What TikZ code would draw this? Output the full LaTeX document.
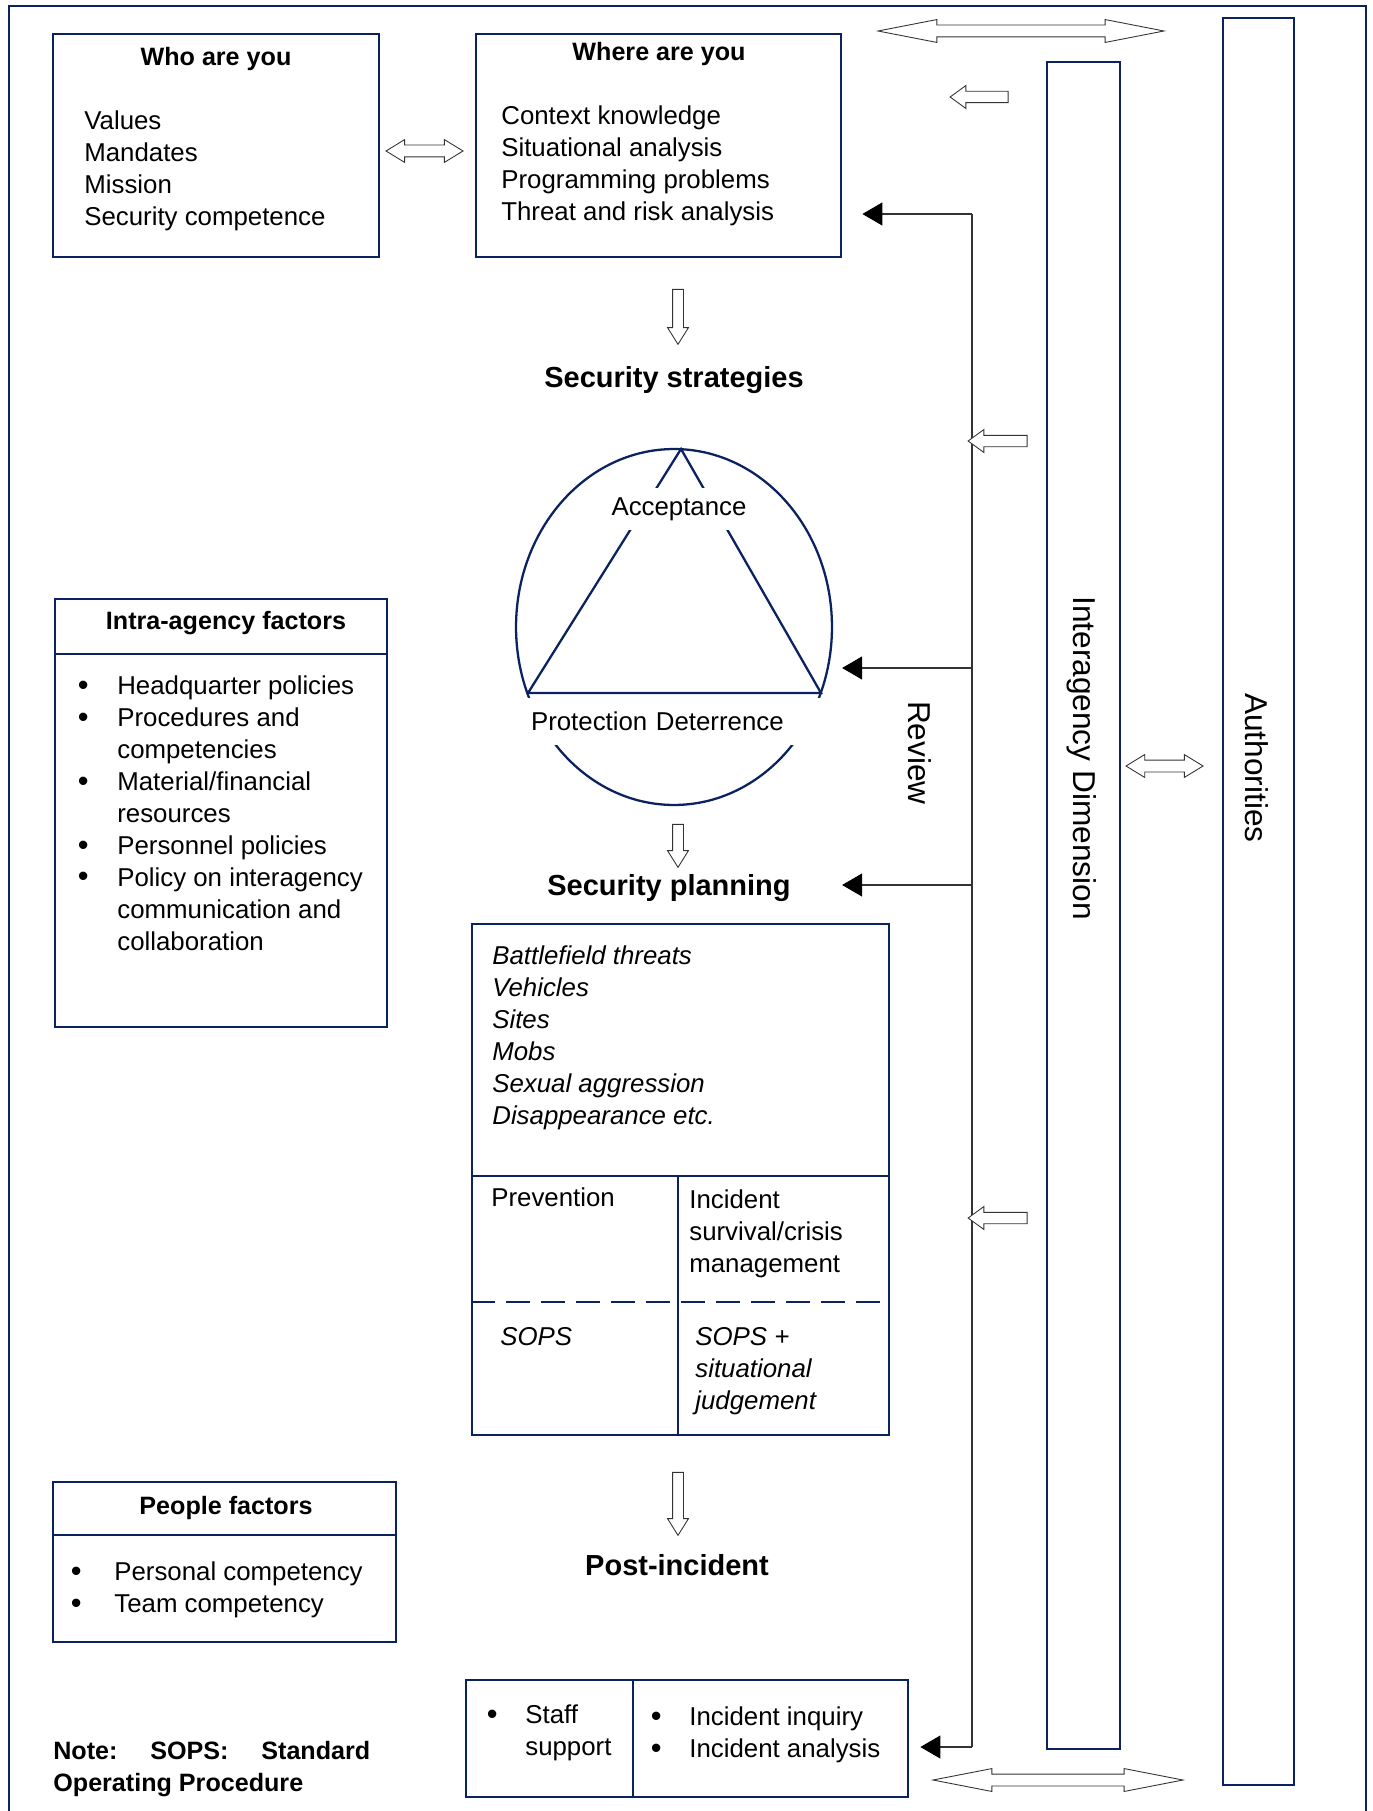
\documentclass[tikz,border=0pt]{standalone}
\usepackage{fontspec}
\setmainfont{Liberation Sans}
\usetikzlibrary{positioning,arrows.meta,shapes.geometric,shapes.arrows}
\definecolor{boxnavy}{HTML}{0B2260}
\newcommand{\fsbody}{\fontsize{14.7}{18.2}\selectfont}
\newcommand{\fstitle}{\fontsize{14.3}{18.2}\selectfont}
\newcommand{\fshead}{\fontsize{16.5}{20}\selectfont}
\newcommand{\fsvert}{\fontsize{18}{22}\selectfont}
\newcommand{\bul}{\raisebox{-0.03em}{\fontsize{17.5}{18}\selectfont\textbullet}}

\begin{document}
\begin{tikzpicture}[x=0.02cm, y=-0.02cm,
  box/.style={draw=boxnavy, line width=1.4pt, inner sep=0pt, anchor=north west},
  sub/.style={draw=boxnavy, line width=1.4pt},
  ttl/.style={font=\fstitle\bfseries, inner sep=0pt},
  hd/.style={font=\fshead\bfseries, inner sep=0pt},
  lst/.style={font=\fsbody, inner sep=0pt, anchor=north west},
  vlbl/.style={font=\fsvert, rotate=-90, inner sep=0pt},
  hol/.style={draw=black!80, fill=white, line width=0.5pt, inner sep=0pt, text height=0pt, text depth=0pt},
  dbl/.style={hol, double arrow, inner ysep=0.11cm, double arrow head extend=0.11cm, double arrow head indent=0pt, double arrow tip angle=63},
  sgl/.style={hol, single arrow, inner ysep=0.105cm, single arrow head extend=0.115cm, single arrow head indent=0pt, single arrow tip angle=72},
  dwn/.style={hol, single arrow, rotate=-90, inner ysep=0.1cm, single arrow head extend=0.1cm, single arrow head indent=0pt, single arrow tip angle=64},
  tri/.style={draw=boxnavy, line width=1.3pt},
  rline/.style={draw=black!80, line width=0.6pt},
  fb/.style={-{Triangle[length=4mm,width=4.6mm,color=black]}, draw=black!80, line width=0.6pt}]
\useasboundingbox (0,0) rectangle (1372,1811);
\draw[boxnavy, line width=1.2pt] (9,1811) -- (9,6) -- (1366,6) -- (1366,1811);

\node[box, minimum width=6.52cm, minimum height=4.46cm] (who) at (52,33) {};
\node[ttl] (whot) at (216,59) {Who are you};
\node[lst] (whol) at (84,106.6) {\begin{tabular}{@{}l@{}}Values\\Mandates\\Mission\\Security competence\end{tabular}};
\node[box, minimum width=7.3cm, minimum height=4.46cm] (where) at (475,33) {};
\node[ttl] (wheret) at (659,54) {Where are you};
\node[lst] (wherel) at (501,101.6) {\begin{tabular}{@{}l@{}}Context knowledge\\Situational analysis\\Programming problems\\Threat and risk analysis\end{tabular}};
\node[dbl, minimum height=1.54cm] (ww) at (424.5,151) {};

\node[box, minimum width=1.42cm, minimum height=35.34cm] (auth) at (1222,17) {};
\node[vlbl] (autht) at (1257,768) {Authorities};
\node[box, minimum width=1.46cm, minimum height=33.74cm] (inter) at (1046,61) {};
\node[vlbl] (intert) at (1082,758) {Interagency Dimension};
\node[dbl, minimum height=1.54cm] (ia) at (1164.5,766) {};
\node[dbl, minimum height=5.72cm, double arrow tip angle=22] (topdbl) at (1021,31) {};
\node[dbl, minimum height=5cm, double arrow tip angle=22] (botdbl) at (1058,1780) {};
\node[sgl, rotate=180, minimum height=1.16cm] (ltop) at (983,97) {};

\node[dwn, minimum height=1.1cm] (d1) at (678,312.5) {};
\node[hd] (sstrat) at (674,380) {Security strategies};
\node[ellipse, draw=boxnavy, line width=1.3pt, minimum width=6.32cm, minimum height=7.12cm, inner sep=0pt] (circ) at (674,627) {};
\draw[tri] (681,449) -- (528,693) -- (821,693) -- cycle;
\node[font=\fsbody, fill=white, inner xsep=0.05cm, inner ysep=0.19cm] (acc) at (679,509) {Acceptance};
\node[font=\fsbody, fill=white, text width=5.78cm, inner xsep=0.12cm, inner ysep=0pt, minimum height=0.94cm, align=left] (pd) at (675.5,721.5) {Protection Deterrence};
\node[dwn, minimum height=0.86cm] (d2) at (678,841.5) {};
\node[hd] (splan) at (669,888) {Security planning};

\node[box, minimum width=8.34cm, minimum height=10.22cm] (plan) at (471,923) {};
\draw[sub] (471,1176) -- (888,1176);
\draw[sub] (678,1176) -- (678,1434);
\draw[sub, dash pattern=on 0.48cm off 0.22cm] (471,1302) -- (888,1302);
\node[lst, font=\fsbody\itshape] (threats) at (492,941.6) {\begin{tabular}{@{}l@{}}Battlefield threats\\Vehicles\\Sites\\Mobs\\Sexual aggression\\Disappearance etc.\end{tabular}};
\node[lst] (prev) at (491,1187) {Prevention};
\node[lst] (inc) at (689,1185.6) {\begin{tabular}{@{}l@{}}Incident\\survival/crisis\\management\end{tabular}};
\node[lst, font=\fsbody\itshape] (sops) at (500,1322.6) {\begin{tabular}{@{}l@{}}SOPS\end{tabular}};
\node[lst, font=\fsbody\itshape] (sopsj) at (695,1322.6) {\begin{tabular}{@{}l@{}}SOPS +\\situational\\judgement\end{tabular}};

\node[dwn, minimum height=1.26cm] (d3) at (678,1499.5) {};
\node[hd] (spost) at (677,1565) {Post-incident};
\node[box, minimum width=8.84cm, minimum height=2.34cm] (post) at (465,1679) {};
\draw[sub] (633,1679) -- (633,1796);
\node[lst] (staff) at (486.5,1700.6) {\begin{tabular}{@{}p{0.77cm}@{}l@{}}\bul & Staff\\ & support\end{tabular}};
\node[lst] (inq) at (650.5,1702.6) {\begin{tabular}{@{}p{0.77cm}@{}l@{}}\bul & Incident inquiry\\\bul & Incident analysis\end{tabular}};

\node[box, minimum width=6.64cm, minimum height=8.56cm] (intra) at (54,598) {};
\draw[sub] (54,654) -- (386,654);
\node[ttl] (intrat) at (226,623) {Intra-agency factors};
\node[lst] (intral) at (77.5,671.6) {\begin{tabular}{@{}p{0.79cm}@{}l@{}}\bul & Headquarter policies\\\bul & Procedures and\\ & competencies\\\bul & Material/financial\\ & resources\\\bul & Personnel policies\\\bul & Policy on interagency\\ & communication and\\ & collaboration\end{tabular}};

\node[box, minimum width=6.86cm, minimum height=3.2cm] (people) at (52,1481) {};
\draw[sub] (52,1535) -- (395,1535);
\node[ttl] (peoplet) at (226,1508) {People factors};
\node[lst] (peoplel) at (70.5,1557.6) {\begin{tabular}{@{}p{0.87cm}@{}l@{}}\bul & Personal competency\\\bul & Team competency\end{tabular}};

\node[lst, font=\fstitle\bfseries, text width=6.34cm, align=justify] (note) at (53,1736.6) {\strut Note:\ \ SOPS:\ \ Standard\linebreak Operating Procedure};

\coordinate (rtop) at (972,214);
\coordinate (rc) at (972,668);
\coordinate (rp) at (972,885);
\coordinate (rbot) at (972,1747);
\draw[rline] (rtop) -- (rbot);
\draw[fb, shorten >=0.4cm] (rtop) -- (rtop -| where.east);
\draw[fb, shorten >=0.18cm] (rc) -- (rc -| circ.east);
\draw[fb, shorten >=0.18cm] (rp) -- (rp -| circ.east);
\draw[fb, shorten >=0.22cm] (rbot) -- (rbot -| post.east);
\node[vlbl] (rev) at (920,753) {Review};
\node[sgl, rotate=180, minimum height=1.18cm] (l1) at (1001.5,441) {};
\node[sgl, rotate=180, minimum height=1.18cm] (l2) at (1001.5,1218) {};
\end{tikzpicture}
\end{document}
